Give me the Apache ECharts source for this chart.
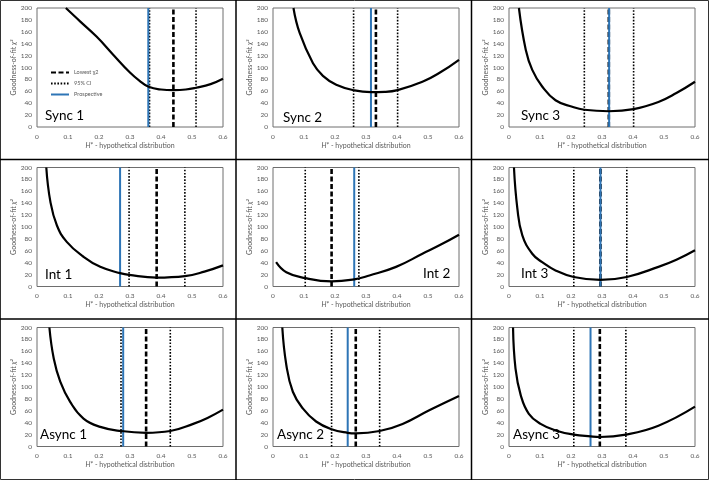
<!DOCTYPE html>
<html>
<head>
<meta charset="utf-8">
<script src="https://cdn.jsdelivr.net/npm/echarts@6/dist/echarts.min.js"></script>
<style>
html,body{margin:0;padding:0;background:#fff;}
#chart{width:709px;height:480px;}
</style>
</head>
<body>
<div id="chart"></div>
<script>
// ---------- DATA ----------
const panelNames = ['Sync 1', 'Sync 2', 'Sync 3', 'Int 1', 'Int 2', 'Int 3', 'Async 1', 'Async 2', 'Async 3'];

const sync1X  = [0.093, 0.138, 0.192, 0.245, 0.299, 0.33, 0.36, 0.40, 0.44, 0.48, 0.513, 0.56, 0.60];
const sync1Y  = [200, 178, 152, 122, 92, 78, 67.5, 63, 62, 63, 66, 72, 81];
const sync2X  = [0.066, 0.086, 0.129, 0.161, 0.204, 0.263, 0.316, 0.36, 0.402, 0.482, 0.54, 0.60];
const sync2Y  = [200, 158, 107, 86, 71, 61.5, 58.5, 59, 62, 76, 92, 113];
const sync3X  = [0.032, 0.054, 0.075, 0.107, 0.15, 0.204, 0.243, 0.322, 0.402, 0.482, 0.54, 0.60];
const sync3Y  = [200, 130, 96, 68, 45, 34, 29, 26.5, 30, 42, 57, 76];
const int1X   = [0.03, 0.043, 0.064, 0.096, 0.15, 0.204, 0.268, 0.297, 0.386, 0.477, 0.54, 0.60];
const int1Y   = [200, 143, 103, 75, 50, 33, 22.5, 19.5, 15, 17.5, 25, 35.5];
const int2X   = [0.01, 0.043, 0.104, 0.189, 0.262, 0.311, 0.397, 0.482, 0.54, 0.60];
const int2Y   = [41, 24, 14, 8.5, 12, 18.6, 33, 55, 70, 87];
const int3X   = [0.016, 0.027, 0.043, 0.075, 0.107, 0.15, 0.209, 0.295, 0.38, 0.482, 0.54, 0.60];
const int3Y   = [200, 131, 86, 55, 41, 27, 16, 11, 16, 33, 45, 61];
const async1X = [0.04, 0.054, 0.075, 0.107, 0.15, 0.204, 0.271, 0.352, 0.43, 0.504, 0.55, 0.60];
const async1Y = [200, 148, 109, 75, 47, 33, 26, 23, 26, 38, 48, 62];
const async2X = [0.03, 0.043, 0.064, 0.096, 0.139, 0.189, 0.241, 0.267, 0.344, 0.418, 0.504, 0.60];
const async2Y = [200, 137, 92, 64, 42, 29, 23, 22, 26, 38, 61, 85];
const async3X = [0.013, 0.021, 0.038, 0.064, 0.102, 0.15, 0.209, 0.263, 0.293, 0.377, 0.482, 0.60];
const async3Y = [200, 131, 86, 55, 38, 27, 20, 17, 16, 20, 35, 67];

const lowestX      = [0.44, 0.332, 0.322, 0.386, 0.189, 0.295, 0.352, 0.267, 0.293];
const ciLowX       = [0.363, 0.26, 0.243, 0.297, 0.104, 0.209, 0.271, 0.189, 0.209];
const ciHighX      = [0.513, 0.402, 0.402, 0.477, 0.277, 0.38, 0.43, 0.344, 0.377];
const prospectiveX = [0.359, 0.316, 0.323, 0.268, 0.262, 0.295, 0.278, 0.241, 0.263];

const xTicks = [0, 0.1, 0.2, 0.3, 0.4, 0.5, 0.6];
const yTicks = [0, 20, 40, 60, 80, 100, 120, 140, 160, 180, 200];
const legendNames = ['Lowest χ2', '95% CI', 'Prospective'];

// ---------- BUILD ----------
const curvesX = [sync1X, sync2X, sync3X, int1X, int2X, int3X, async1X, async2X, async3X];
const curvesY = [sync1Y, sync2Y, sync3Y, int1Y, int2Y, int3Y, async1Y, async2Y, async3Y];

const FONT = 'Lato, "Liberation Sans", sans-serif';
const GREY = '#595959';
const BLUE = '#2E75B6';
const colLeft = [37, 273, 509];
const rowTop = [8, 167.5, 327.5];
const plotW = 186, plotH = 119;

const grids = [], xAxes = [], yAxes = [], series = [], graphics = [];
const yMin = yTicks[0], yMax = yTicks[yTicks.length - 1];

for (let i = 0; i < 9; i++) {
  const r = Math.floor(i / 3), c = i % 3;
  grids.push({
    left: colLeft[c], top: rowTop[r], width: plotW, height: plotH,
    show: true, borderColor: '#6e6e6e', borderWidth: 1, backgroundColor: '#fff'
  });
  xAxes.push({
    gridIndex: i, type: 'value', min: xTicks[0], max: xTicks[xTicks.length - 1], interval: 0.1,
    axisLine: { show: false }, axisTick: { show: false }, splitLine: { show: false },
    axisLabel: { color: GREY, fontSize: 6.5, fontFamily: FONT, margin: 6 },
    name: '{i|H*}{n| - hypothetical distribution}',
    nameLocation: 'middle', nameGap: 15,
    nameTextStyle: {
      rich: {
        i: { fontStyle: 'italic', fontSize: 7, color: GREY, fontFamily: FONT },
        n: { fontSize: 7, color: GREY, fontFamily: FONT }
      }
    }
  });
  yAxes.push({
    gridIndex: i, type: 'value', min: yMin, max: yMax, interval: 20,
    axisLine: { show: false }, axisTick: { show: false }, splitLine: { show: false },
    axisLabel: { color: GREY, fontSize: 6.5, fontFamily: FONT, margin: 5 },
    name: '{n|Goodness-of-fit }{i|χ²}',
    nameLocation: 'middle', nameGap: 18,
    nameTextStyle: {
      rich: {
        i: { fontStyle: 'italic', fontSize: 7, color: GREY, fontFamily: FONT },
        n: { fontSize: 7, color: GREY, fontFamily: FONT }
      }
    }
  });

  const vline = (x) => [[x, yMin], [x, yMax]];
  const base = { type: 'line', xAxisIndex: i, yAxisIndex: i, symbol: 'none', showSymbol: false, silent: true, animation: false };

  series.push(Object.assign({}, base, {
    name: legendNames[1], data: vline(ciLowX[i]),
    lineStyle: { color: '#000', width: 1.6, type: [1.6, 1.6] }, itemStyle: { color: '#000' }, z: 2
  }));
  series.push(Object.assign({}, base, {
    name: legendNames[1], data: vline(ciHighX[i]),
    lineStyle: { color: '#000', width: 1.6, type: [1.6, 1.6] }, itemStyle: { color: '#000' }, z: 2
  }));
  series.push(Object.assign({}, base, {
    name: legendNames[0], data: vline(lowestX[i]),
    lineStyle: { color: '#000', width: 2.6, type: [5, 2.5] }, itemStyle: { color: '#000' }, z: 3
  }));
  series.push(Object.assign({}, base, {
    name: legendNames[2], data: vline(prospectiveX[i]),
    lineStyle: { color: BLUE, width: 2 }, itemStyle: { color: BLUE }, z: 4
  }));
  series.push(Object.assign({}, base, {
    name: 'curve', data: curvesX[i].map((x, k) => [x, curvesY[i][k]]),
    smooth: 0.45,
    lineStyle: { color: '#000', width: 2.2 }, itemStyle: { color: '#000' }, z: 5
  }));
}

// panel labels
const labelPos = [
  [45, 116], [283, 118], [521, 116],
  [45, 275], [423, 274], [521, 274],
  [40, 435], [277, 435], [513, 435]
];
panelNames.forEach((t, i) => {
  graphics.push({
    type: 'text', x: labelPos[i][0], y: labelPos[i][1], z: 100,
    style: { text: t, fill: '#000', font: '13.5px ' + FONT, verticalAlign: 'middle', align: 'left' }
  });
});

// panel separators / frame
const lineStyle = { stroke: '#000', lineWidth: 1.5 };
graphics.push({ type: 'rect', shape: { x: 0.5, y: 0.5, width: 708, height: 479 }, style: { fill: null, stroke: '#333', lineWidth: 1 }, z: 100 });
[236, 471.5].forEach(x => graphics.push({ type: 'line', shape: { x1: x, y1: 0, x2: x, y2: 480 }, style: lineStyle, z: 100 }));
[159.5, 319].forEach(y => graphics.push({ type: 'line', shape: { x1: 0, y1: y, x2: 709, y2: y }, style: lineStyle, z: 100 }));

const chart = echarts.init(document.getElementById('chart'), null, { renderer: 'canvas' });
chart.setOption({
  animation: false,
  backgroundColor: '#fff',
  grid: grids,
  xAxis: xAxes,
  yAxis: yAxes,
  series: series,
  legend: {
    data: legendNames, orient: 'vertical', left: 45, top: 64.5,
    itemWidth: 18, itemHeight: 7, itemGap: 5, selectedMode: false,
    itemStyle: { opacity: 0, borderWidth: 0 },
    textStyle: { color: GREY, fontSize: 5.5, fontFamily: FONT }
  },
  graphic: graphics
});
</script>
</body>
</html>
